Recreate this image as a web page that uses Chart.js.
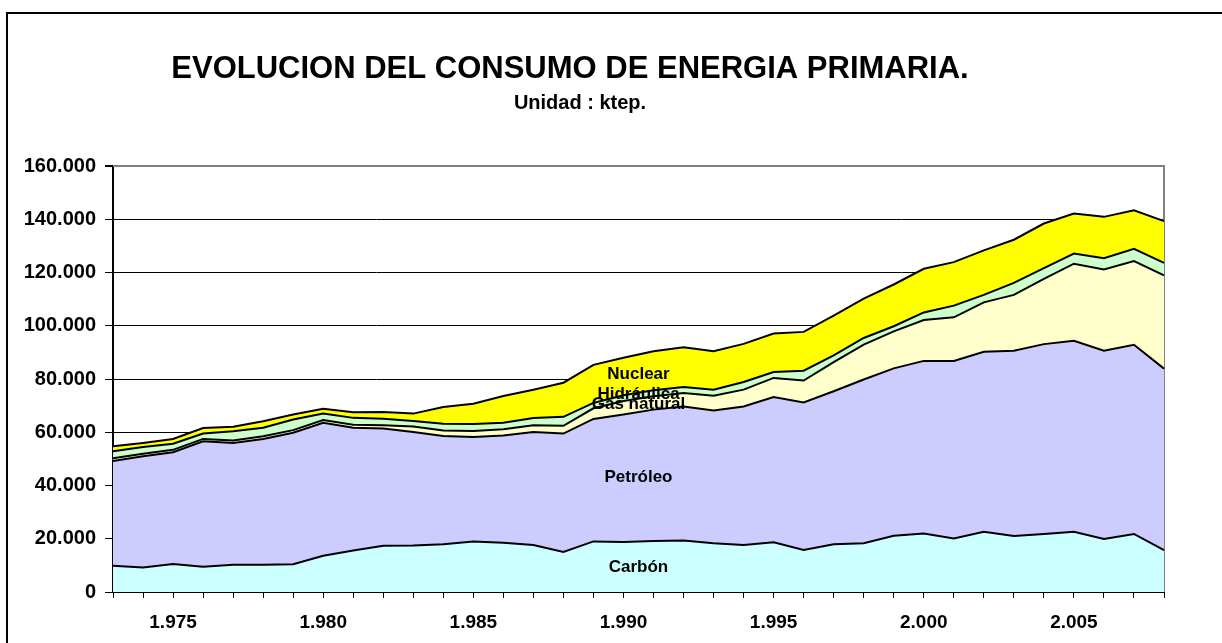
<!DOCTYPE html>
<html>
<head>
<meta charset="utf-8">
<script src="https://cdn.jsdelivr.net/npm/chart.js@4/dist/chart.umd.min.js"></script>
<style>
  html, body { margin: 0; padding: 0; background: #fff; }
  #wrap { position: relative; width: 1222px; height: 643px; }
</style>
</head>
<body>
<div id="wrap"><canvas id="grafico" width="1222" height="643"></canvas></div>
<script>
// datos (ktep)
const anios = [1973, 1974, 1975, 1976, 1977, 1978, 1979, 1980, 1981, 1982,
               1983, 1984, 1985, 1986, 1987, 1988, 1989, 1990, 1991, 1992,
               1993, 1994, 1995, 1996, 1997, 1998, 1999, 2000, 2001, 2002,
               2003, 2004, 2005, 2006, 2007, 2008];

const carbon     = [9900, 9200, 10500, 9500, 10200, 10200, 10400, 13600, 15600, 17400,
                    17500, 17900, 19000, 18500, 17650, 15000, 19000, 18800, 19200, 19300,
                    18300, 17700, 18700, 15800, 17900, 18300, 21100, 22000, 20100, 22600,
                    21000, 21800, 22600, 19900, 21800, 15700];
const petroleo   = [39300, 41800, 42000, 47100, 45800, 47300, 49400, 49950, 46100, 44000,
                    42600, 40700, 39200, 40300, 42450, 44500, 46000, 47900, 49300, 50400,
                    49900, 52000, 54500, 55400, 57500, 61500, 62900, 64800, 66700, 67600,
                    69600, 71300, 71750, 70700, 71050, 68200];
const gasNatural = [1000, 900, 900, 900, 900, 1000, 1000, 1000, 1100, 1200,
                    2100, 2100, 2300, 2300, 2500, 2900, 4000, 5000, 5000, 5000,
                    5500, 6300, 7200, 8200, 10900, 13100, 13900, 15350, 16350, 18600,
                    21000, 24500, 28950, 30550, 31450, 35000];
const hidraulica = [2700, 2600, 2300, 2000, 3500, 3200, 4000, 2500, 2600, 2500,
                    2000, 2500, 2600, 2500, 2750, 3400, 2000, 2200, 2300, 2300,
                    2300, 2900, 2200, 3700, 2600, 2500, 1900, 2850, 4400, 2800,
                    4500, 4050, 3800, 4250, 4600, 4750];
const nuclear    = [1800, 1500, 1800, 2100, 1700, 2400, 1900, 1750, 2100, 2500,
                    2800, 6300, 7600, 10000, 10650, 12800, 14300, 14100, 14600, 14900,
                    14400, 14300, 14500, 14600, 14900, 14800, 15700, 16400, 16350, 16700,
                    16200, 16750, 15050, 15500, 14500, 15650];

const nombres = ["Carbón", "Petróleo", "Gas natural", "Hidráulica", "Nuclear"];
const colores = ["#CCFFFF", "#CCCCFF", "#FFFFCC", "#CCFFCC", "#FFFF00"];

// donde va cada rotulo dentro de su area (valor del eje y)
const rotuloY = [9400, 43200, 70500, 74400, 81900];

const fuente = '"Liberation Sans", Arial, sans-serif';

const miles = v => String(v).replace(/\B(?=(\d{3})+(?!\d))/g, ".");

const rotulos = {
  id: "rotulos",
  beforeDraw(chart) {
    const ctx = chart.ctx;
    ctx.save();
    ctx.fillStyle = "#fff";
    ctx.fillRect(0, 0, chart.width, chart.height);
    ctx.strokeStyle = "#000";
    ctx.lineWidth = 2;
    ctx.strokeRect(7, 13, chart.width + 20, chart.height + 20);
    ctx.restore();
  },
  beforeDatasetsDraw(chart) {
    const { ctx, chartArea: a } = chart;
    ctx.save();
    ctx.strokeStyle = "#808080";
    ctx.lineWidth = 2;
    ctx.beginPath();
    ctx.moveTo(a.left, a.top);
    ctx.lineTo(a.right, a.top);
    ctx.lineTo(a.right, a.bottom);
    ctx.stroke();
    ctx.restore();
  },
  afterDraw(chart) {
    const ctx = chart.ctx;
    const xs = chart.scales.x, ys = chart.scales.y;
    ctx.save();
    ctx.fillStyle = "#000";
    ctx.textAlign = "center";
    ctx.textBaseline = "alphabetic";
    ctx.font = "bold 31px " + fuente;
    ctx.fillText("EVOLUCION DEL CONSUMO DE ENERGIA PRIMARIA.", 570, 78);
    ctx.font = "bold 20px " + fuente;
    ctx.fillText("Unidad : ktep.", 580, 109);

    const xm = (xs.getPixelForValue(17) + xs.getPixelForValue(18)) / 2;
    ctx.font = "bold 17px " + fuente;
    ctx.textBaseline = "middle";
    nombres.forEach((n, i) => ctx.fillText(n, xm, ys.getPixelForValue(rotuloY[i])));
    ctx.restore();
  }
};

const series = [carbon, petroleo, gasNatural, hidraulica, nuclear];

new Chart(document.getElementById("grafico"), {
  type: "line",
  data: {
    labels: anios,
    datasets: series.map((d, i) => ({
      label: nombres[i],
      data: d,
      backgroundColor: colores[i],
      borderColor: "#000",
      borderWidth: 2,
      pointRadius: 0,
      tension: 0,
      fill: i === 0 ? "origin" : "-1"
    }))
  },
  options: {
    responsive: false,
    animation: false,
    events: [],
    layout: { padding: { left: 0, top: 166, right: 1222 - 1164, bottom: 0 } },
    plugins: {
      legend: { display: false },
      title: { display: false },
      tooltip: { enabled: false }
    },
    scales: {
      x: {
        offset: false,
        afterFit: s => { s.height = 51; },
        grid: {
          offset: false,
          drawOnChartArea: false,
          drawTicks: true,
          tickLength: 6,
          color: "#000",
          lineWidth: 1
        },
        border: { color: "#000", width: 2 },
        ticks: {
          autoSkip: false,
          maxRotation: 0,
          padding: 13,
          color: "#000",
          font: { family: fuente, size: 19, weight: "bold" },
          callback: function (v, i) {
            const y = anios[i];
            return y % 5 === 0 ? miles(y) : "";
          }
        }
      },
      y: {
        stacked: true,
        min: 0,
        max: 160000,
        afterFit: s => { s.width = 113; },
        grid: {
          color: ctx => ctx.tick && ctx.tick.value === 160000 ? "#808080" : "#000",
          lineWidth: ctx => ctx.tick && ctx.tick.value === 160000 ? 2 : 1,
          tickLength: 8,
          tickColor: "#000"
        },
        border: { color: "#000", width: 2 },
        ticks: {
          stepSize: 20000,
          padding: 9,
          color: "#000",
          font: { family: fuente, size: 20, weight: "bold" },
          callback: v => miles(v)
        }
      }
    }
  },
  plugins: [rotulos]
});
</script>
</body>
</html>
